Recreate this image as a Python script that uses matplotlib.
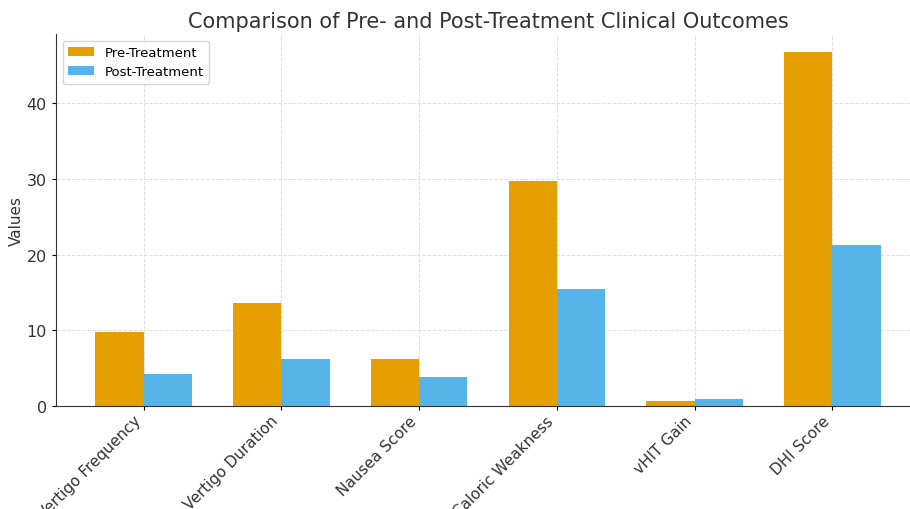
import numpy as np
import matplotlib
matplotlib.use("Agg")
import matplotlib.pyplot as plt

categories = ["Vertigo Frequency", "Vertigo Duration", "Nausea Score",
              "Caloric Weakness", "vHIT Gain", "DHI Score"]
pre_treatment = [9.8, 13.6, 6.2, 29.7, 0.7, 46.8]
post_treatment = [4.2, 6.2, 3.8, 15.4, 0.9, 21.3]

fig = plt.figure(figsize=(9.1, 5.1), dpi=100)
ax = fig.add_axes([56 / 910, 103 / 510, 864 / 910, 372 / 510])

x = np.arange(len(categories))
w = 0.35
ax.bar(x - w / 2, pre_treatment, w, color="#E69F00", label="Pre-Treatment")
ax.bar(x + w / 2, post_treatment, w, color="#56B4E9", label="Post-Treatment")

ax.set_xticks(x)
ax.set_xticklabels(categories, rotation=45, ha="right", fontsize=11, color="#333333")
ax.tick_params(axis="x", pad=2, length=3)
ax.tick_params(axis="y", labelsize=11.5, labelcolor="#333333", length=3)
ax.set_yticks([0, 10, 20, 30, 40])
ax.set_ylabel("Values", fontsize=11, color="#333333", labelpad=2)
ax.set_title("Comparison of Pre- and Post-Treatment Clinical Outcomes",
             fontsize=15, color="#333333", pad=5)
ax.grid(True, linestyle="--", color="#e0e0e0", linewidth=0.7)
ax.set_axisbelow(True)
for s in ["top", "right"]:
    ax.spines[s].set_visible(False)
for s in ["left", "bottom"]:
    ax.spines[s].set_color("#333333")
ax.legend(loc="upper left", fontsize=9.5, frameon=True)

fig.savefig("out.png", dpi=100)
